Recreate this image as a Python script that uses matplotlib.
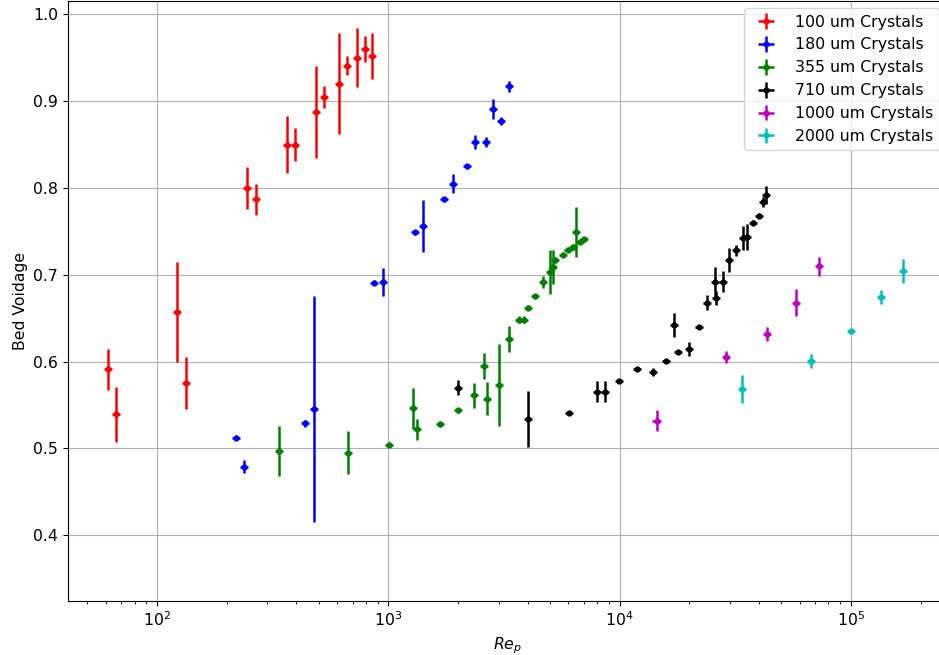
import numpy as np
import matplotlib
matplotlib.use('Agg')
import matplotlib.pyplot as plt

# 100 um
re100 = [61.4, 66.5, 122.4, 133, 244, 267, 364, 395, 487, 529, 611, 661, 730, 790, 851]
v100 = [0.591, 0.539, 0.657, 0.575, 0.800, 0.787, 0.850, 0.850, 0.888, 0.905, 0.920, 0.941, 0.950, 0.960, 0.952]
e100 = [0.024, 0.032, 0.058, 0.030, 0.024, 0.018, 0.033, 0.019, 0.053, 0.013, 0.058, 0.011, 0.034, 0.015, 0.027]

# 180 um
re180 = [220, 238, 438, 477, 871, 946, 1304, 1416, 1741, 1898, 2182, 2371, 2637, 2845, 3062, 3327]
v180 = [0.512, 0.479, 0.529, 0.545, 0.691, 0.692, 0.749, 0.756, 0.787, 0.805, 0.825, 0.853, 0.853, 0.891, 0.877, 0.917]
e180 = [0.003, 0.008, 0.004, 0.130, 0.003, 0.016, 0.003, 0.030, 0.003, 0.011, 0.003, 0.008, 0.006, 0.012, 0.005, 0.006]

# 355 um
re355 = [336, 671, 1004, 1282, 1334, 1672, 2008, 2340, 2584, 2670, 3011, 3337, 3662, 3862, 4030,
         4322, 4666, 5000, 5152, 5262, 5680, 6002, 6310, 6480, 6740, 7020]
v355 = [0.497, 0.495, 0.504, 0.546, 0.522, 0.528, 0.544, 0.561, 0.595, 0.557, 0.573, 0.626, 0.648, 0.648, 0.662,
        0.675, 0.692, 0.703, 0.709, 0.717, 0.723, 0.729, 0.732, 0.749, 0.738, 0.741]
e355 = [0.029, 0.025, 0.003, 0.024, 0.012, 0.003, 0.003, 0.014, 0.015, 0.019, 0.047, 0.015, 0.004, 0.004, 0.003,
        0.003, 0.007, 0.025, 0.020, 0.004, 0.003, 0.003, 0.003, 0.029, 0.003, 0.003]

# 710 um
re710 = [2008, 4018, 6025, 7960, 8650, 9900, 11940, 14000, 15890, 17140, 17960, 19900, 22000, 23870, 25900,
         26000, 27900, 29800, 31850, 34040, 35420, 37840, 40180, 41800, 42950]
v710 = [0.570, 0.534, 0.541, 0.565, 0.565, 0.578, 0.591, 0.588, 0.601, 0.642, 0.611, 0.614, 0.640, 0.668, 0.692,
        0.673, 0.692, 0.717, 0.728, 0.742, 0.744, 0.760, 0.768, 0.784, 0.792]
e710 = [0.009, 0.032, 0.002, 0.012, 0.012, 0.002, 0.002, 0.005, 0.002, 0.014, 0.002, 0.008, 0.002, 0.009, 0.017,
        0.008, 0.012, 0.014, 0.006, 0.014, 0.015, 0.003, 0.003, 0.006, 0.010]

# 1000 um
re1000 = [14450, 28850, 43250, 57700, 72600]
v1000 = [0.532, 0.605, 0.632, 0.668, 0.710]
e1000 = [0.012, 0.007, 0.008, 0.015, 0.011]

# 2000 um
re2000 = [33740, 67300, 100000, 134500, 168700]
v2000 = [0.568, 0.601, 0.635, 0.674, 0.704]
e2000 = [0.016, 0.008, 0.003, 0.008, 0.014]

series = [
    (re100, v100, e100, 'r', '100 um Crystals'),
    (re180, v180, e180, 'b', '180 um Crystals'),
    (re355, v355, e355, 'g', '355 um Crystals'),
    (re710, v710, e710, 'k', '710 um Crystals'),
    (re1000, v1000, e1000, 'm', '1000 um Crystals'),
    (re2000, v2000, e2000, 'c', '2000 um Crystals'),
]
xfrac = 0.04

plt.rcParams['font.size'] = 11.3

fig = plt.figure(figsize=(9.39, 6.55), dpi=100)
ax = fig.add_axes([0.0724, 0.0824, 0.936, 0.9168])

for re, v, e, col, lab in series:
    re = np.array(re)
    ax.errorbar(re, v, yerr=e, xerr=re * xfrac, fmt='o', color=col, ms=3.5,
                elinewidth=1.8, label=lab)

ax.set_xscale('log')
ax.set_xlim(41.2, 2.6e5)
ax.set_ylim(0.324, 1.016)
ax.grid(True)
ax.set_xlabel('$Re_p$')
ax.set_ylabel('Bed Voidage')
ax.legend(loc='upper right')

plt.savefig('out.png', dpi=100)
